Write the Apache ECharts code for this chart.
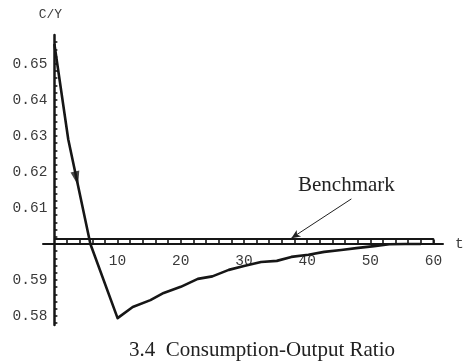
<!DOCTYPE html>
<html>
<head>
<meta charset="utf-8">
<script src="https://cdn.jsdelivr.net/npm/echarts@6/dist/echarts.min.js"></script>
<style>
  html, body { margin: 0; padding: 0; background: #fff; }
  #chart { width: 474px; height: 363px; }
</style>
</head>
<body>
<div id="chart"></div>
<script>
// Consumption-output ratio path after the shock, against its benchmark level
const periods = [0, 2.2, 5.7, 10, 12.4, 15.2, 17.3, 20, 22.7, 25, 27.6, 30, 32.7, 35.2, 37.5, 40.2, 42.7, 45.4, 48.1, 50.6, 53, 55.5, 58];
const ratio   = [0.6555, 0.629, 0.600, 0.5794, 0.5825, 0.5844, 0.5864, 0.5881, 0.5903, 0.591, 0.5928, 0.5939, 0.595, 0.5953, 0.5964, 0.597, 0.5978, 0.5983, 0.5989, 0.5994, 0.5999, 0.6, 0.6];

// Benchmark level held from t = 0 to t = 60
const benchmarkT = [0, 60];
const benchmarkValue = 0.6014;

// Direction marker on the falling branch
const arrowPoint = [3.5, 0.6182];

// Pointer from the "Benchmark" caption to the benchmark line
const pointerTail = [47, 0.6125];
const pointerHead = [37.5, 0.6016];

// Axis ticks
const xTickLabels = [10, 20, 30, 40, 50, 60];
const yTickLabels = [0.58, 0.59, 0.61, 0.62, 0.63, 0.64, 0.65];

// Axis ranges; the axes cross at t = 0 and C/Y = 0.6
const xRange = [-1.8, 61.5];
const yRange = [0.5775, 0.658];
const X_CROSS = 0;
const Y_CROSS = 0.6;

const yMinor = [];
for (let k = 289; k <= 328; k++) yMinor.push(+(k * 0.002).toFixed(3));
const xMinor = [];
for (let k = 1; k <= 30; k++) xMinor.push(k * 2);

// Plot box
const W = 474, H = 363;
const grid = { left: 43, right: 31, top: 35, bottom: 38 };
const plotW = W - grid.left - grid.right;
const plotH = H - grid.top - grid.bottom;

// Pull each axis from the box edge in to the crossing point
const xAxisOffset = -plotH * (Y_CROSS - yRange[0]) / (yRange[1] - yRange[0]);
const yAxisOffset = -plotW * (X_CROSS - xRange[0]) / (xRange[1] - xRange[0]);

const ink = '#161616';
const textInk = '#3a3a3a';
const mono = '"Liberation Mono", "DejaVu Sans Mono", monospace';
const serif = '"Liberation Serif", "DejaVu Serif", serif';

const chart = echarts.init(document.getElementById('chart'), null, { renderer: 'canvas' });

chart.setOption({
  animation: false,
  backgroundColor: '#fff',
  title: {
    text: '3.4  Consumption-Output Ratio',
    left: 124,
    top: 335,
    textStyle: { fontFamily: serif, fontSize: 21, fontWeight: 'normal', color: '#222' }
  },
  graphic: [{
    type: 'text',
    left: 298,
    top: 175,
    style: { text: 'Benchmark', font: '21px "Liberation Serif", serif', fill: '#222' }
  }],
  grid: Object.assign({ containLabel: false }, grid),
  xAxis: {
    type: 'value',
    min: xRange[0],
    max: xRange[1],
    position: 'bottom',
    offset: xAxisOffset,
    name: 't',
    nameLocation: 'end',
    nameGap: 12,
    nameTextStyle: { fontFamily: mono, fontSize: 14.5, color: textInk, verticalAlign: 'middle' },
    splitLine: { show: false },
    axisLine: { show: true, onZero: false, lineStyle: { color: ink, width: 2 } },
    axisTick: { show: true, inside: true, length: 4, customValues: xMinor, lineStyle: { color: ink, width: 1.6 } },
    axisLabel: {
      show: true, customValues: xTickLabels, margin: 10,
      fontFamily: mono, fontSize: 14.5, color: textInk,
      formatter: v => String(Math.round(v))
    }
  },
  yAxis: {
    type: 'value',
    min: yRange[0],
    max: yRange[1],
    position: 'left',
    offset: yAxisOffset,
    name: 'C/Y',
    nameLocation: 'end',
    nameGap: 14,
    nameTextStyle: { fontFamily: mono, fontSize: 13, color: textInk, padding: [0, 8, 0, 0] },
    splitLine: { show: false },
    axisLine: { show: true, onZero: false, lineStyle: { color: ink, width: 2.5 } },
    axisTick: { show: true, inside: true, length: 3, customValues: yMinor, lineStyle: { color: ink, width: 1.6 } },
    axisLabel: {
      show: true, customValues: yTickLabels, margin: 7,
      fontFamily: mono, fontSize: 14.5, color: textInk,
      formatter: v => v.toFixed(2)
    }
  },
  series: [
    {
      name: 'Benchmark',
      type: 'line',
      symbol: 'none',
      silent: true,
      z: 2,
      lineStyle: { color: ink, width: 2 },
      data: [
        [benchmarkT[0], benchmarkValue],
        [benchmarkT[1], benchmarkValue],
        [benchmarkT[1], Y_CROSS]
      ],
      markLine: {
        silent: true,
        symbol: ['none', 'arrow'],
        symbolSize: [6, 9],
        label: { show: false },
        lineStyle: { color: '#222', width: 1, type: 'solid' },
        data: [[
          { coord: pointerTail },
          { coord: pointerHead }
        ]]
      }
    },
    {
      name: 'C/Y',
      type: 'line',
      symbol: 'none',
      silent: true,
      z: 3,
      lineStyle: { color: ink, width: 2.6, join: 'round' },
      data: periods.map((t, i) => [t, ratio[i]])
    },
    {
      name: 'direction',
      type: 'scatter',
      silent: true,
      z: 4,
      symbol: 'triangle',
      symbolSize: [9, 14],
      symbolRotate: 193,
      itemStyle: { color: ink },
      data: [arrowPoint]
    }
  ]
});
</script>
</body>
</html>
